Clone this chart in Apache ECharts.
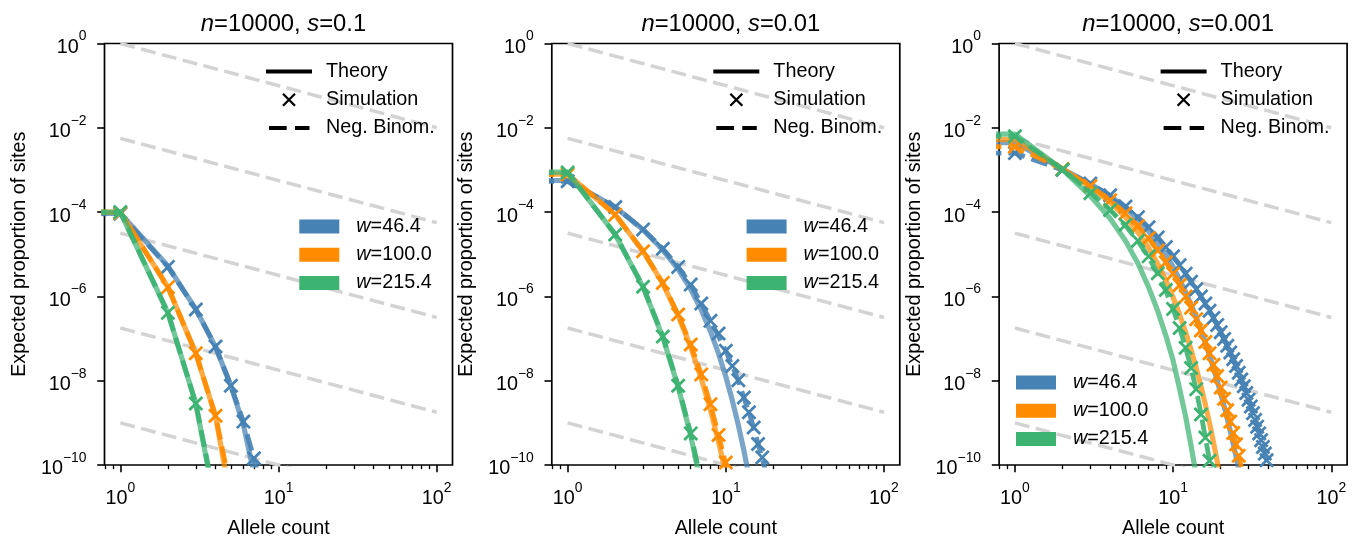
<!DOCTYPE html>
<html><head><meta charset="utf-8">
<script src="https://cdn.jsdelivr.net/npm/echarts@6/dist/echarts.min.js"></script>
<style>html,body{margin:0;padding:0;background:#fff}#c{width:1358px;height:544px}</style>
</head><body><div id="c"></div><script>
// ---------------- DATA (log10 of expected proportion, allele counts 1,2,3,...) ----------------
const panelTitles = ['0.1', '0.01', '0.001'];
const wLabels = ['w=46.4', 'w=100.0', 'w=215.4'];
const xMajorTicks = [1, 10, 100];
const xMinorTicks = [0.8, 0.9, 2, 3, 4, 5, 6, 7, 8, 9, 20, 30, 40, 50, 60, 70, 80, 90];
const yMajorTicks = [1e-10, 1e-8, 1e-6, 1e-4, 1e-2, 1];
const guideX = [1, 100];
const guideStartExp = [0, -2.25, -4.5, -6.75, -9];
const guideEndExp = [-2, -4.25, -6.5, -8.75, -11];

// s = 0.1
const s1_w46_theory = [-4.03, -5.28, -6.30, -7.20, -8.12, -9.05, -10.2];
const s1_w100_theory = [-4.00, -5.78, -7.35, -8.85, -10.85];
const s1_w215_theory = [-4.00, -6.39, -8.54, -11.0];
const s1_w46_sim = [-4.04, -5.30, -6.31, -7.19, -8.12, -8.97, -9.84];
const s1_w100_sim = [-4.02, -5.78, -7.35, -8.83];
const s1_w215_sim = [-4.00, -6.39, -8.54];
const s1_w46_nb = [-4.04, -5.30, -6.31, -7.19, -8.12, -8.97, -9.84, -10.8];
const s1_w100_nb = [-4.00, -5.78, -7.35, -8.83, -10.6];
const s1_w215_nb = [-4.00, -6.39, -8.54, -10.9];

// s = 0.01
const s2_w46_theory = [-3.25, -3.88, -4.42, -4.90, -5.36, -5.83, -6.32, -6.83, -7.36, -7.90, -8.47, -9.05, -9.65, -10.27];
const s2_w100_theory = [-3.10, -4.06, -4.93, -5.70, -6.46, -7.20, -7.95, -8.70, -9.45, -10.2];
const s2_w215_theory = [-3.05, -4.53, -5.78, -6.97, -8.15, -9.30, -10.5];
const s2_w46_sim = [-3.27, -3.88, -4.41, -4.87, -5.30, -5.72, -6.17, -6.58, -6.88, -7.29, -7.65, -7.99, -8.40, -8.75, -9.11, -9.50, -9.82, -10.2];
const s2_w100_sim = [-3.11, -4.06, -4.93, -5.68, -6.43, -7.14, -7.85, -8.56, -9.29, -9.94, -10.7];
const s2_w215_sim = [-3.06, -4.53, -5.77, -6.95, -8.12, -9.25, -10.4];
const s2_w46_nb = [-3.27, -3.88, -4.41, -4.87, -5.30, -5.72, -6.17, -6.58, -6.95, -7.29, -7.65, -8.00, -8.40, -8.75, -9.11, -9.50, -9.85, -10.2];
const s2_w100_nb = [-3.11, -4.06, -4.93, -5.68, -6.43, -7.14, -7.85, -8.56, -9.29, -9.98, -10.7];
const s2_w215_nb = [-3.06, -4.53, -5.77, -6.95, -8.12, -9.25, -10.4];

// s = 0.001
const s3_w46_theory = [-2.35, -2.98, -3.33, -3.62, -3.90, -4.17, -4.45, -4.73, -5.01, -5.30, -5.60, -5.90, -6.20, -6.50, -6.80, -7.10, -7.40, -7.70, -8.00, -8.30, -8.60, -8.90, -9.20, -9.50, -9.80, -10.10, -10.40];
const s3_w100_theory = [-2.28, -2.97, -3.40, -3.77, -4.12, -4.48, -4.85, -5.23, -5.62, -6.02, -6.43, -6.85, -7.27, -7.70, -8.13, -8.57, -9.01, -9.46, -9.91, -10.36];
const s3_w215_theory = [-2.15, -2.99, -3.62, -4.15, -4.68, -5.22, -5.78, -6.35, -6.93, -7.52, -8.20, -8.85, -9.55, -10.25];
const s3_w46_sim = [-2.60, -3.00, -3.32, -3.60, -3.87, -4.12, -4.36, -4.60, -4.83, -5.05, -5.26, -5.46, -5.65, -5.83, -6.00, -6.17, -6.34, -6.51, -6.68, -6.85, -7.01, -7.17, -7.33, -7.49, -7.65, -7.81, -7.97, -8.13, -8.29, -8.45, -8.61, -8.77, -8.93, -9.09, -9.25, -9.41, -9.57, -9.73, -9.89, -10.05];
const s3_w100_sim = [-2.45, -2.98, -3.38, -3.72, -4.03, -4.33, -4.62, -4.91, -5.19, -5.46, -5.73, -6.00, -6.27, -6.54, -6.81, -7.08, -7.35, -7.62, -7.89, -8.16, -8.43, -8.70, -8.97, -9.24, -9.51, -9.78, -10.05];
const s3_w215_sim = [-2.20, -2.99, -3.55, -3.95, -4.30, -4.68, -5.05, -5.45, -5.85, -6.30, -6.75, -7.22, -7.70, -8.20, -8.80, -9.35, -9.90, -10.45];
const s3_w46_nb = [-2.60, -3.00, -3.33, -3.61, -3.87, -4.12, -4.36, -4.60, -4.83, -5.05, -5.26, -5.46, -5.65, -5.83, -6.00, -6.17, -6.34, -6.51, -6.68, -6.85, -7.01, -7.17, -7.33, -7.49, -7.65, -7.81, -7.97, -8.13, -8.29, -8.45, -8.61, -8.77, -8.93, -9.09, -9.25, -9.41, -9.57, -9.73, -9.89, -10.05];
const s3_w100_nb = [-2.45, -2.98, -3.38, -3.72, -4.03, -4.33, -4.62, -4.91, -5.19, -5.46, -5.73, -6.00, -6.27, -6.54, -6.81, -7.08, -7.35, -7.62, -7.89, -8.16, -8.43, -8.70, -8.97, -9.24, -9.51, -9.78, -10.05];
const s3_w215_nb = [-2.20, -2.99, -3.52, -3.95, -4.32, -4.69, -5.07, -5.46, -5.87, -6.30, -6.75, -7.22, -7.70, -8.22, -8.78, -9.35, -9.90, -10.45];

// ---------------- CHART ----------------
const FONT = '"Liberation Sans", Arial, Helvetica, sans-serif';
const FS = 19.8;
const colors = ['#4682b4', '#ff8c00', '#3cb371'];
const gridLeft = [104.5, 551.8, 999.1];
const gridTop = 43.5, gridW = 348, gridH = 422.5;
const zeroCountPos = 1e-300; // allele count 0, clipped like a log axis does

const panels = [
  {theory: [s1_w46_theory, s1_w100_theory, s1_w215_theory], sim: [s1_w46_sim, s1_w100_sim, s1_w215_sim], nb: [s1_w46_nb, s1_w100_nb, s1_w215_nb]},
  {theory: [s2_w46_theory, s2_w100_theory, s2_w215_theory], sim: [s2_w46_sim, s2_w100_sim, s2_w215_sim], nb: [s2_w46_nb, s2_w100_nb, s2_w215_nb]},
  {theory: [s3_w46_theory, s3_w100_theory, s3_w215_theory], sim: [s3_w46_sim, s3_w100_sim, s3_w215_sim], nb: [s3_w46_nb, s3_w100_nb, s3_w215_nb]}
];

function pts(arr) { return arr.map((v, i) => [i + 1, Math.pow(10, v)]); }
function linePts(arr) { return [[zeroCountPos, Math.pow(10, arr[0])]].concat(pts(arr)); }

const X_MARK = 'path://M0.9,-0.9L12.9,11.1L11.1,12.9L-0.9,0.9ZM12.9,0.9L0.9,12.9L-0.9,11.1L11.1,-0.9Z';

function supLabel(v) {
  const e = Math.round(Math.log10(v));
  return '{b|10}{s|' + (e < 0 ? '\u2212' + (-e) : e) + '}';
}
const supRich = {
  b: {fontSize: FS, fontFamily: FONT, color: '#000', lineHeight: 28, height: 20, verticalAlign: 'bottom'},
  s: {fontSize: 13.9, fontFamily: FONT, color: '#000', lineHeight: 28, height: 14, verticalAlign: 'top'}
};

const grids = [], xAxes = [], yAxes = [], series = [], titles = [], legends = [];
panels.forEach((p, gi) => {
  grids.push({left: gridLeft[gi], top: gridTop, width: gridW, height: gridH, show: true,
    borderColor: '#000', borderWidth: 1.7, backgroundColor: 'transparent', containLabel: false});
  xAxes.push({
    type: 'log', logBase: 10, gridIndex: gi, min: Math.pow(10, -0.1), max: Math.pow(10, 2.1), position: 'bottom',
    axisLine: {show: false},
    axisTick: {show: true, length: 7.3, lineStyle: {color: '#000', width: 1.6}, customValues: xMajorTicks},
    axisLabel: {show: true, customValues: xMajorTicks, margin: 16, formatter: supLabel, rich: supRich},
    splitLine: {show: false}, minorTick: {show: false},
    name: 'Allele count', nameLocation: 'middle', nameGap: 54,
    nameTextStyle: {fontSize: FS, fontFamily: FONT, color: '#000'}
  });
  xAxes.push({
    type: 'log', logBase: 10, gridIndex: gi, min: Math.pow(10, -0.1), max: Math.pow(10, 2.1), position: 'bottom', offset: 0,
    axisLine: {show: false},
    axisTick: {show: true, length: 4.2, lineStyle: {color: '#000', width: 1.3}, customValues: xMinorTicks},
    axisLabel: {show: false}, splitLine: {show: false}
  });
  yAxes.push({
    type: 'log', logBase: 10, gridIndex: gi, min: 1e-10, max: 1, position: 'left',
    axisLine: {show: false},
    axisTick: {show: true, length: 7.3, lineStyle: {color: '#000', width: 1.6}, customValues: yMajorTicks},
    axisLabel: {show: true, customValues: yMajorTicks, margin: 18, formatter: supLabel, rich: supRich},
    splitLine: {show: false},
    name: 'Expected proportion of sites', nameLocation: 'middle', nameGap: 75,
    nameTextStyle: {fontSize: FS, fontFamily: FONT, color: '#000'}
  });
  const xi = gi * 2, yi = gi;
  guideStartExp.forEach((e, k) => {
    series.push({type: 'line', xAxisIndex: xi, yAxisIndex: yi, silent: true, showSymbol: false, symbol: 'none',
      data: [[guideX[0], Math.pow(10, e)], [guideX[1], Math.pow(10, guideEndExp[k])]],
      lineStyle: {color: '#d3d3d3', width: 3.5, type: [15, 6.5]}, z: 1});
  });
  for (let c = 0; c < 3; c++) {
    series.push({type: 'line', name: 'th' + gi + c, xAxisIndex: xi, yAxisIndex: yi, showSymbol: false, symbol: 'none',
      data: linePts(p.theory[c]), lineStyle: {color: colors[c], width: 5.2, opacity: 0.72}, z: 2 + c * 3});
    series.push({type: 'line', name: 'nb' + gi + c, xAxisIndex: xi, yAxisIndex: yi, showSymbol: false, symbol: 'none',
      data: linePts(p.nb[c]), lineStyle: {color: colors[c], width: 4.8, type: [17, 7], opacity: 0.9}, z: 3 + c * 3});
    series.push({type: 'scatter', name: 'sim' + gi + c, xAxisIndex: xi, yAxisIndex: yi, symbol: X_MARK, symbolSize: 15,
      data: pts(p.sim[c]), itemStyle: {color: colors[c], opacity: 1}, z: 4 + c * 3});
  }
  titles.push({text: '{i|n}=10000, {i|s}=' + panelTitles[gi], left: gridLeft[gi] + gridW / 2, top: 7, textAlign: 'center',
    textStyle: {fontSize: 23.8, fontWeight: 'normal', fontFamily: FONT, color: '#000',
      rich: {i: {fontStyle: 'italic', fontSize: 23.8, fontFamily: FONT, color: '#000'}}}});
});

['Theory', 'Simulation', 'Neg. Binom.'].forEach(n => series.push({type: 'line', name: n, data: [], xAxisIndex: 0, yAxisIndex: 0, color: '#000'}));
wLabels.forEach((n, c) => series.push({type: 'line', name: n, data: [], xAxisIndex: 0, yAxisIndex: 0, color: colors[c]}));

const styleIcons = {
  'Theory': 'path://M0,0M46,14M0,5L46,5L46,9L0,9Z',
  'Simulation': 'path://M0,0M46,14M17.81,0.19L29.81,12.19L28.19,13.81L16.19,1.81ZM29.81,1.81L17.81,13.81L16.19,12.19L28.19,0.19Z',
  'Neg. Binom.': 'path://M0,0M46,14M3,5L20.7,5L20.7,9L3,9ZM29,5L43.5,5L43.5,9L29,9Z'
};
const legendText = {fontSize: FS, fontFamily: FONT, color: '#000'};
const leg2Pos = [[299.3 - 104.5, 216.5], [299.3 - 104.5, 216.5], [16.9, 372.5]];
gridLeft.forEach((gl, gi) => {
  legends.push({orient: 'vertical', left: gl + 161.5, top: 61.5, padding: 0, itemWidth: 46, itemHeight: 14, itemGap: 8.2,
    selectedMode: false, data: Object.keys(styleIcons).map(n => ({name: n, icon: styleIcons[n]})),
    textStyle: Object.assign({padding: [0, 0, 0, 9]}, legendText)});
  legends.push({orient: 'vertical', left: gl + leg2Pos[gi][0], top: leg2Pos[gi][1], padding: 0, itemWidth: 40, itemHeight: 14, itemGap: 8.2,
    selectedMode: false, data: wLabels.map(n => ({name: n, icon: 'rect'})),
    formatter: n => '{i|w}' + n.slice(1),
    textStyle: Object.assign({padding: [0, 0, 0, 12], rich: {i: {fontStyle: 'italic', fontSize: FS, fontFamily: FONT, color: '#000'}}}, legendText)});
});

const chart = echarts.init(document.getElementById('c'), null, {renderer: 'canvas'});
chart.setOption({
  animation: false, backgroundColor: '#fff',
  title: titles, grid: grids, xAxis: xAxes, yAxis: yAxes, legend: legends, series: series,
  tooltip: {show: false}
});
</script></body></html>
